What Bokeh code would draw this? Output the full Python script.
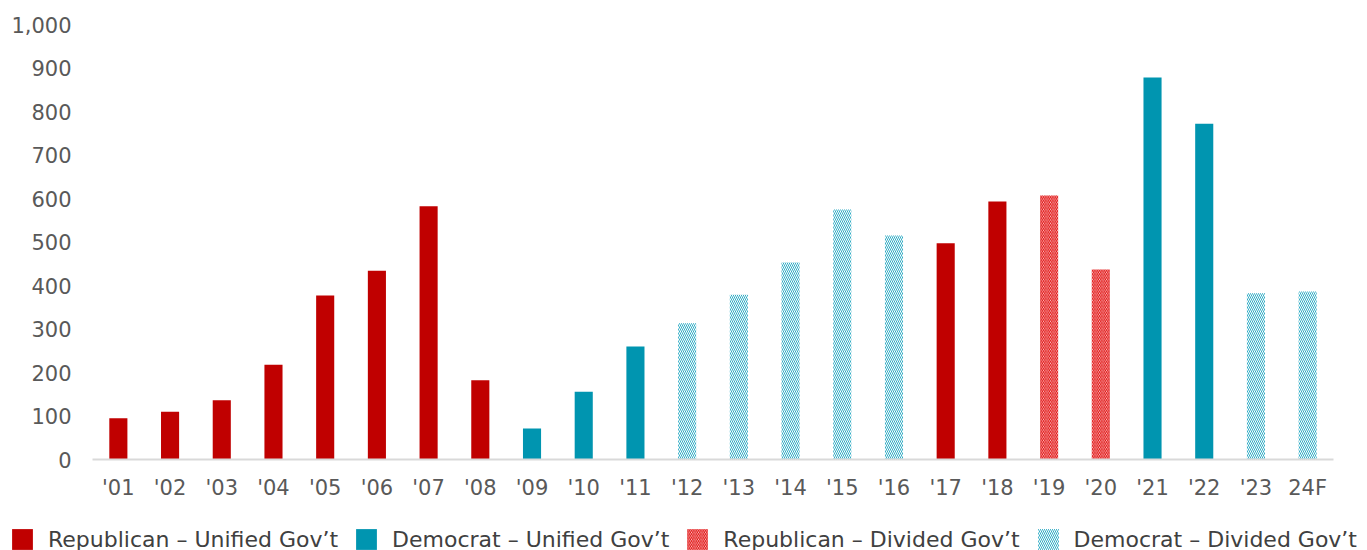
from bokeh.plotting import figure
from bokeh.layouts import column
from bokeh.models import ColumnDataSource, FactorRange, Range1d, Legend, LegendItem, NumeralTickFormatter, FixedTicker
from bokeh.embed import file_html
from bokeh.resources import INLINE

years = ["'01", "'02", "'03", "'04", "'05", "'06", "'07", "'08", "'09", "'10", "'11", "'12",
         "'13", "'14", "'15", "'16", "'17", "'18", "'19", "'20", "'21", "'22", "'23", "24F"]
values = [95, 110, 136, 218, 377, 434, 582, 182, 71, 156, 260, 313,
          379, 453, 575, 515, 497, 593, 607, 437, 878, 772, 382, 386]
groups = ["RU", "RU", "RU", "RU", "RU", "RU", "RU", "RU", "DU", "DU", "DU", "DD",
          "DD", "DD", "DD", "DD", "RU", "RU", "RD", "RD", "DU", "DU", "DD", "DD"]
group_order = ["RU", "DU", "RD", "DD"]
group_labels = {"RU": "Republican – Unified Gov’t", "DU": "Democrat – Unified Gov’t",
                "RD": "Republican – Divided Gov’t", "DD": "Democrat – Divided Gov’t"}
y_ticks = [0, 100, 200, 300, 400, 500, 600, 700, 800, 900, 1000]

FONT = "DejaVu Sans"
RED = "#C00000"
TEAL = "#0095B0"

styles = {
    "RU": dict(fill_color=RED, line_color=None),
    "DU": dict(fill_color=TEAL, line_color=None),
    "RD": dict(fill_color="#FADADA", line_color=None, hatch_pattern="left_diagonal_line",
               hatch_color="#E00000", hatch_weight=1, hatch_scale=3.5),
    "DD": dict(fill_color="white", line_color=None, hatch_pattern="left_diagonal_line",
               hatch_color="#30ABC4", hatch_weight=1, hatch_scale=4),
}

p = figure(x_range=FactorRange(*years, range_padding=0.0), y_range=Range1d(0, 1000),
           width=1367, height=510, output_backend="svg", toolbar_location=None,
           min_border_left=92, min_border_right=34, min_border_top=24, min_border_bottom=51)

def src(g):
    xs = [y for y, gg in zip(years, groups) if gg == g]
    vs = [v for v, gg in zip(values, groups) if gg == g]
    return ColumnDataSource(dict(x=xs, top=vs))

sources = {g: src(g) for g in group_order}

W = 0.35
for g in group_order:
    p.vbar(x="x", top="top", width=W, source=sources[g], **styles[g])

p.xgrid.grid_line_color = None
p.ygrid.grid_line_color = None
p.outline_line_color = None

p.yaxis.ticker = FixedTicker(ticks=y_ticks)
p.yaxis.formatter = NumeralTickFormatter(format="0,0")
p.yaxis.axis_line_color = None
p.yaxis.major_tick_line_color = None
p.yaxis.minor_tick_line_color = None
p.xaxis.axis_line_color = "#D9D9D9"
p.xaxis.axis_line_width = 2
p.xaxis.major_tick_line_color = None
for ax in (p.xaxis, p.yaxis):
    ax.major_tick_out = 0
    ax.major_tick_in = 0
    ax.minor_tick_out = 0
    ax.minor_tick_in = 0
    ax.major_label_text_font = FONT
    ax.major_label_text_font_size = "21px"
    ax.major_label_text_color = "#595959"
p.yaxis.major_label_standoff = 21
p.xaxis.major_label_standoff = 16

# legend strip
lg = figure(width=1367, height=40, output_backend="svg", toolbar_location=None,
            x_axis_type=None, y_axis_type=None, x_range=FactorRange(*years),
            y_range=Range1d(5000, 5001), min_border=0)
lg.frame_align = False
lg.outline_line_color = None
lg.xgrid.grid_line_color = None
lg.ygrid.grid_line_color = None
items = []
for g in group_order:
    r = lg.vbar(x="x", top="top", width=W, source=sources[g], **styles[g])
    items.append(LegendItem(label=group_labels[g], renderers=[r]))
legend = Legend(items=items, orientation="horizontal", location=(9, -2), border_line_color=None,
                background_fill_alpha=0, label_text_font=FONT, label_text_font_size="22px",
                label_text_color="#404040", glyph_width=26, glyph_height=26, spacing=15,
                padding=0, margin=0, label_standoff=13)
lg.add_layout(legend, "center")

open("out.html", "w").write(file_html(column(p, lg, spacing=0), INLINE))
